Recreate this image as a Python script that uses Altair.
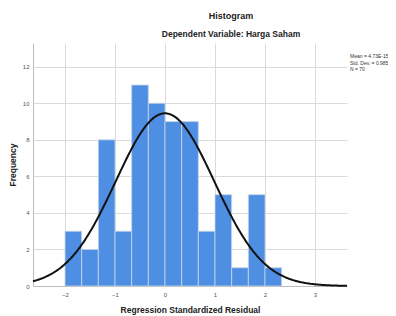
import altair as alt
import pandas as pd

# Histogram bins (lower edge, upper edge) and counts
bin_lo = [-2.0, -1.667, -1.333, -1.0, -0.667, -0.333, 0.0, 0.333, 0.667, 1.0, 1.333, 1.667, 2.0]
bin_hi = [-1.667, -1.333, -1.0, -0.667, -0.333, 0.0, 0.333, 0.667, 1.0, 1.333, 1.667, 2.0, 2.333]
counts = [3, 2, 8, 3, 11, 10, 9, 9, 3, 5, 1, 5, 1]

# Normal curve parameters (from the chart legend)
mean_val = 0.0
std_dev = 0.985
n_obs = 70
bin_width = 1 / 3
legend_lines = ["Mean = 4.73E-15", "Std. Dev. = 0.985", "N = 70"]

x_ticks = [-2, -1, 0, 1, 2, 3]
y_ticks = [0, 2, 4, 6, 8, 10, 12]
x_domain = [-2.64, 3.64]
y_domain = [0, 13.3]

bars_df = pd.DataFrame({"lo": bin_lo, "hi": bin_hi, "count": counts, "base": [0] * len(counts)})

xs = alt.Scale(domain=x_domain, nice=False, zero=False)
ys = alt.Scale(domain=y_domain, nice=False)

x_axis = alt.Axis(values=x_ticks, title="Regression Standardized Residual", grid=True,
                  gridColor="#dadada", domain=True, domainColor="#bdbdbd", ticks=False,
                  labelFontSize=6, labelColor="#555555", labelPadding=5,
                  titleFontSize=8.5, titleFontWeight="bold", titleColor="#222222", titlePadding=8)
y_axis = alt.Axis(values=y_ticks, title="Frequency", grid=True,
                  gridColor="#dadada", domain=True, domainColor="#bdbdbd", ticks=False,
                  labelFontSize=6, labelColor="#555555", labelPadding=4,
                  titleFontSize=8.5, titleFontWeight="bold", titleColor="#222222", titlePadding=5)

bars = alt.Chart(bars_df).mark_bar(color="#4f8fe3", stroke="#c9d6e6", strokeWidth=0.8).encode(
    x=alt.X("lo:Q", scale=xs, axis=x_axis),
    x2="hi:Q",
    y=alt.Y("count:Q", scale=ys, axis=y_axis),
    y2="base:Q",
)

curve = alt.Chart(alt.sequence(start=x_domain[0], stop=x_domain[1] + 0.01, step=0.02, as_="x")).transform_calculate(
    y=f"{n_obs} * {bin_width} * densityNormal(datum.x, {mean_val}, {std_dev})"
).mark_line(color="#111111", strokeWidth=2).encode(
    x=alt.X("x:Q", scale=xs),
    y=alt.Y("y:Q", scale=ys),
)

legend = alt.Chart(pd.DataFrame({"t": [0]})).mark_text(
    align="left", baseline="top", fontSize=5, lineHeight=6.5, color="#333333"
).encode(
    x=alt.value(317), y=alt.value(11), text=alt.value(legend_lines)
)

chart = alt.layer(bars, curve, legend).properties(
    width=314, height=243,
    padding={"left": 25, "top": 35, "right": 41, "bottom": 30},
    autosize=alt.AutoSizeParams(type="none"),
    title=alt.TitleParams(text="Histogram", subtitle="Dependent Variable: Harga Saham",
                          anchor="middle", dx=41, fontSize=9, fontWeight="bold", color="#222222",
                          subtitleFontSize=8.5, subtitleColor="#222222", subtitleFontWeight="bold",
                          subtitlePadding=9, offset=5, font="Liberation Sans", subtitleFont="Liberation Sans"),
).configure(font="Liberation Sans").configure_view(stroke=None)

chart.save("out.html", embed_options={"renderer": "svg", "actions": False})
